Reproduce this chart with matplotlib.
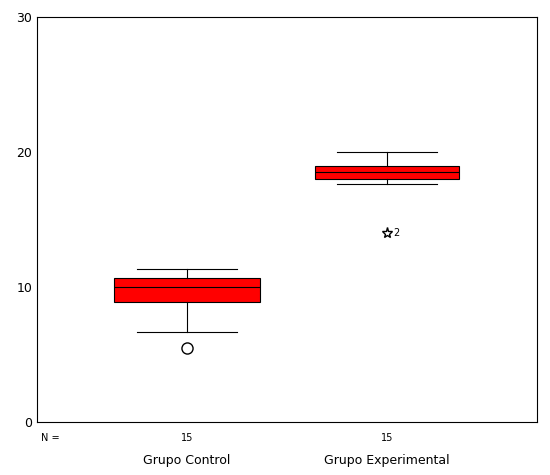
import matplotlib
matplotlib.use("Agg")
import matplotlib.pyplot as plt

groups = ["Grupo Control", "Grupo Experimental"]
n_counts = [15, 15]
whislo = [6.7, 17.6]
q1 = [8.9, 18.0]
med = [10.0, 18.5]
q3 = [10.7, 19.0]
whishi = [11.3, 20.0]
outliers = [[5.5], [14.0]]
outlier_labels = ["", "2"]

fig = plt.figure(figsize=(5.5, 4.75), dpi=100)
ax = fig.add_axes([37/550, 1-422/475, 500/550, 405/475])
stats = [dict(whislo=whislo[i], q1=q1[i], med=med[i], q3=q3[i], whishi=whishi[i], fliers=[]) for i in range(2)]
ax.bxp(stats, positions=[1, 2], widths=0.725, patch_artist=True,
       boxprops=dict(facecolor="red", edgecolor="black", linewidth=0.8),
       medianprops=dict(color="black", linewidth=0.8),
       whiskerprops=dict(color="black", linewidth=0.8),
       capprops=dict(color="black", linewidth=0.8), capwidths=0.5)
ax.plot([1], outliers[0], marker="o", mfc="none", mec="black", ms=8, ls="none")
ax.plot([2], outliers[1], marker="*", mfc="none", mec="black", ms=8, ls="none")
ax.text(2.03, outliers[1][0], outlier_labels[1], fontsize=7, va="center")
ax.set_xlim(0.25, 2.75)
ax.set_ylim(0, 30)
ax.set_yticks([0, 10, 20, 30])
ax.set_xticks([])
ax.tick_params(axis="y", labelsize=9, length=0)
for i, g in enumerate(groups):
    ax.text(i + 1, -0.8, str(n_counts[i]), ha="center", va="top", fontsize=7)
    ax.text(i + 1, -2.4, g, ha="center", va="top", fontsize=9)
ax.text(0.27, -0.8, "N =", ha="left", va="top", fontsize=7)
fig.savefig("out.png", dpi=100)
